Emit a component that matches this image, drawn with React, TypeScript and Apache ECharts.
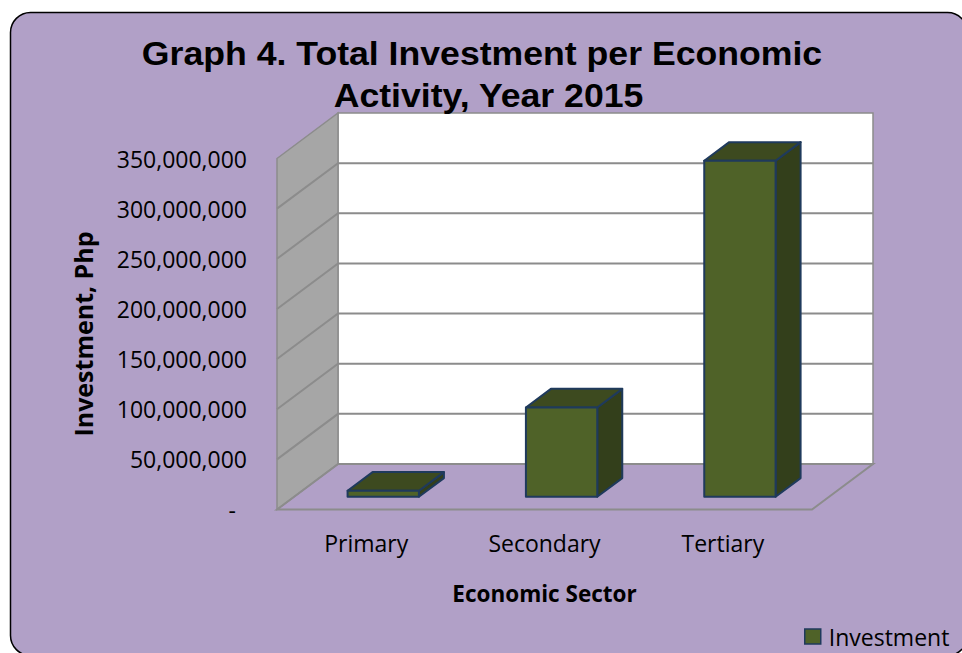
import React, { useEffect, useRef } from "react";
import * as echarts from "echarts";

const categories = ["Primary", "Secondary", "Tertiary"];
const investment = [6000000, 89000000, 335000000];
const yMin = 0;
const yMax = 350000000;
const yInterval = 50000000;
const titleLines = ["Graph 4. Total Investment per Economic", "Activity, Year 2015"];
const seriesName = "Investment";
const xAxisTitle = "Economic Sector";
const yAxisTitle = "Investment, Php";

const DX = 61;
const DY = -45.5;
const BAR_D1 = 0.28;
const BAR_D2 = 0.69;
const GRID_COLOR = "#8C8C8C";
const FONT = "'Open Sans', sans-serif";

function fmt(v: number): string {
  if (v === 0) return "{d|-}";
  return String(v).replace(/\B(?=(\d{3})+(?!\d))/g, ",");
}

export default function App() {
  const ref = useRef<HTMLDivElement>(null);
  useEffect(() => {
    if (!ref.current) return;
    const chart = echarts.init(ref.current, null, { renderer: "svg" });

    const frameRender = (params: any, api: any) => {
      const cs = params.coordSys;
      const x0 = cs.x, y0 = cs.y, w = cs.width, h = cs.height;
      const children: any[] = [];
      children.push({
        type: "rect",
        shape: { x: x0 + DX, y: y0 + DY, width: w, height: h },
        style: { fill: "#FFFFFF", stroke: GRID_COLOR, lineWidth: 1.5 },
      });
      children.push({
        type: "polygon",
        shape: { points: [[x0, y0], [x0 + DX, y0 + DY], [x0 + DX, y0 + h + DY], [x0, y0 + h]] },
        style: { fill: "#A6A6A6", stroke: GRID_COLOR, lineWidth: 1.5 },
      });
      children.push({
        type: "polygon",
        shape: { points: [[x0, y0 + h], [x0 + DX, y0 + h + DY], [x0 + w + DX, y0 + h + DY], [x0 + w, y0 + h]] },
        style: { fill: "none", stroke: GRID_COLOR, lineWidth: 2 },
      });
      for (let v = yMin + yInterval; v < yMax; v += yInterval) {
        const p = api.coord([0, v]);
        const y = p[1];
        children.push({
          type: "polyline",
          shape: { points: [[x0, y], [x0 + DX, y + DY], [x0 + w + DX, y + DY]] },
          style: { fill: "none", stroke: GRID_COLOR, lineWidth: 2 },
        });
      }
      return { type: "group", children };
    };

    const barRender = (params: any, api: any) => {
      const i = api.value(0);
      const v = api.value(1);
      const base = api.coord([i, 0]);
      const top = api.coord([i, v]);
      const bw = api.size([1, 0])[0];
      const half = bw * 0.2;
      const fl = base[0] - half + DX * BAR_D1;
      const fr = base[0] + half + DX * BAR_D1;
      const fb = base[1] + DY * BAR_D1;
      const ft = top[1] + DY * BAR_D1;
      const ddx = DX * (BAR_D2 - BAR_D1);
      const ddy = DY * (BAR_D2 - BAR_D1);
      const stroke = "#1F3A5C";
      return {
        type: "group",
        children: [
          {
            type: "polygon",
            shape: { points: [[fr, ft], [fr + ddx, ft + ddy], [fr + ddx, fb + ddy], [fr, fb]] },
            style: { fill: "#333F1B", stroke, lineWidth: 2, lineJoin: "round" },
          },
          {
            type: "polygon",
            shape: { points: [[fl, ft], [fr, ft], [fr + ddx, ft + ddy], [fl + ddx, ft + ddy]] },
            style: { fill: "#3D4A1F", stroke, lineWidth: 2, lineJoin: "round" },
          },
          {
            type: "polygon",
            shape: { points: [[fl, ft], [fr, ft], [fr, fb], [fl, fb]] },
            style: { fill: "#4F6228", stroke, lineWidth: 2, lineJoin: "round" },
          },
        ],
      };
    };

    const titleStyle = (text: string) => ({
      text,
      fontSize: 33,
      fontWeight: "bold",
      fontFamily: "'Liberation Sans', Arial, sans-serif",
      fill: "#000",
      align: "center",
      verticalAlign: "middle",
      textAlign: "center",
      textVerticalAlign: "middle",
    });

    const option: any = {
      animation: false,
      textStyle: { fontFamily: FONT },
      grid: { left: 277, top: 158.5, width: 535, height: 351, containLabel: false },
      xAxis: {
        type: "category",
        data: categories,
        axisLine: { show: false },
        axisTick: { show: false },
        splitLine: { show: false },
        axisLabel: { fontSize: 23, color: "#000", margin: 22, fontFamily: FONT },
        name: xAxisTitle,
        nameLocation: "middle",
        nameGap: 72,
        nameTextStyle: { fontSize: 22.5, fontWeight: "bold", color: "#000", fontFamily: FONT },
      },
      yAxis: {
        type: "value",
        min: yMin,
        max: yMax,
        interval: yInterval,
        axisLine: { show: false },
        axisTick: { show: false },
        splitLine: { show: false },
        axisLabel: {
          fontSize: 23,
          color: "#000",
          margin: 30,
          fontFamily: FONT,
          formatter: fmt,
          rich: { d: { fontSize: 23, color: "#000", fontFamily: FONT, padding: [0, 11, 0, 0] } },
        },
        name: yAxisTitle,
        nameLocation: "middle",
        nameGap: 182,
        nameTextStyle: { fontSize: 25, fontWeight: "bold", color: "#000", fontFamily: FONT },
      },
      legend: {
        show: true,
        left: 804,
        top: 625,
        padding: 0,
        itemWidth: 16,
        itemHeight: 15,
        textStyle: { fontSize: 23, color: "#000", fontFamily: FONT, padding: [0, 0, 0, 3] },
        data: [
          {
            name: seriesName,
            icon: "rect",
            itemStyle: { color: "#4F6228", borderColor: "#1F3A5C", borderWidth: 1.5 },
          },
        ],
      },
      graphic: [
        {
          type: "rect",
          z: -10,
          shape: { x: 10.5, y: 12.5, width: 957, height: 643, r: 20 },
          style: { fill: "#B1A0C7", stroke: "#000", lineWidth: 1.5 },
          silent: true,
        },
        { type: "text", z: 10, x: 482, y: 53.5, scaleX: 1.08, style: titleStyle(titleLines[0]) },
        { type: "text", z: 10, x: 488.5, y: 95.8, scaleX: 1.08, style: titleStyle(titleLines[1]) },
      ],
      series: [
        {
          type: "custom",
          name: "frame",
          z: 1,
          silent: true,
          renderItem: frameRender,
          data: [[0, 0]],
          encode: { x: 0, y: 1 },
        },
        {
          type: "custom",
          name: seriesName,
          z: 2,
          renderItem: barRender,
          itemStyle: { color: "#4F6228" },
          data: investment.map((v, i) => [i, v]),
          encode: { x: 0, y: 1 },
        },
      ],
    };
    chart.setOption(option);
    return () => chart.dispose();
  }, []);

  return (
    <div
      ref={ref}
      style={{ position: "absolute", left: 0, top: 0, width: 962, height: 653, background: "#FFFFFF" }}
    />
  );
}
